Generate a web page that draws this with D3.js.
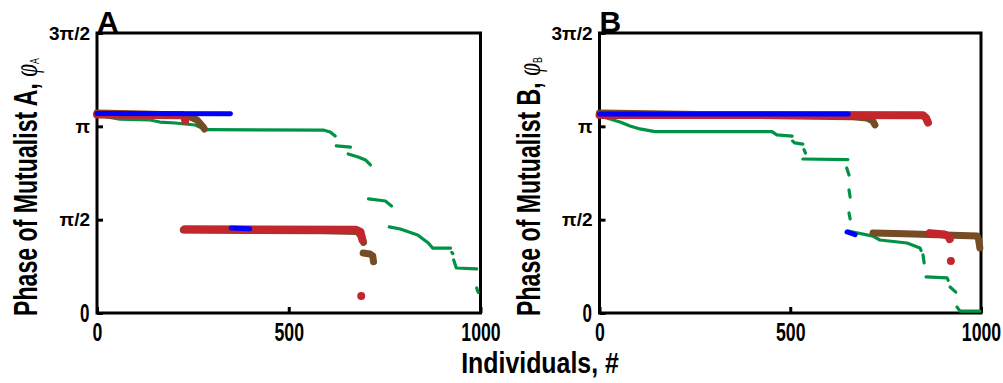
<!DOCTYPE html>
<html>
<head>
<meta charset="utf-8">
<script src="https://cdn.jsdelivr.net/npm/d3@7"></script>
<style>
  html, body { margin: 0; padding: 0; background: #fff; }
  svg { display: block; }
  text { font-family: "Liberation Sans", Arial, sans-serif; font-weight: bold; fill: #000; }
</style>
</head>
<body>
<svg id="chart" width="1003" height="383"></svg>
<script>
// Phase values are given in units of pi; individuals are ranked 0..1000.
// Each series is a list of runs: consecutive individuals whose dots merge into one stroke.
const phaseTicks = [0, 0.5, 1, 1.5];
const phaseTickLabels = ["0", "\u03c0/2", "\u03c0", "3\u03c0/2"];
const individualTicks = [0, 500, 1000];

// Mutualist A
const greenA = [
  [[0, 1.06], [60, 1.039], [138, 1.034], [164, 1.023], [204, 1.018], [256, 1.007], [275, 0.99], [285, 0.982], [590, 0.980], [608, 0.970], [621, 0.948]],
  [[624, 0.895], [661, 0.889]],
  [[655, 0.852], [681, 0.836], [700, 0.820], [713, 0.793]],
  [[708, 0.611], [752, 0.600], [768, 0.573]],
  [[762, 0.461], [791, 0.450], [836, 0.418], [864, 0.375], [875, 0.348], [922, 0.348]],
  [[925, 0.325], [928, 0.318]],
  [[930, 0.284], [937, 0.241], [990, 0.236]],
  [[990, 0.134], [994, 0.110]]
];
const brownA = [
  [[0, 1.071], [200, 1.062], [235, 1.058], [261, 1.034], [277, 0.996], [280, 0.986]],
  [[225, 0.445], [590, 0.44], [679, 0.436], [690, 0.41], [695, 0.378]],
  [[694, 0.321], [712, 0.316], [719, 0.306], [721, 0.275]]
];
const redA = [
  [[0, 1.063], [222, 1.06], [228, 1.05], [230, 1.03]],
  [[229, 0.448], [676, 0.446], [687, 0.435], [692, 0.392]],
  [[689, 0.091]]
];
const blueA = [
  [[0, 1.069], [348, 1.067]],
  [[350, 0.456], [398, 0.451]]
];

// Mutualist B
const greenB = [
  [[1, 1.055], [54, 1.023], [80, 1.002], [106, 0.986], [145, 0.972], [452, 0.972], [465, 0.954], [505, 0.948]],
  [[506, 0.921], [512, 0.911], [533, 0.905]],
  [[536, 0.875], [540, 0.857]],
  [[533, 0.825], [651, 0.822]],
  [[648, 0.777], [654, 0.739]],
  [[654, 0.659], [657, 0.621]],
  [[654, 0.536], [657, 0.504]],
  [[651, 0.439], [717, 0.412], [735, 0.391], [806, 0.375], [840, 0.348], [843, 0.335]],
  [[848, 0.311], [851, 0.268]],
  [[856, 0.193], [911, 0.188], [914, 0.175]],
  [[919, 0.139], [934, 0.112]],
  [[937, 0.032], [945, 0.01], [997, 0.01]]
];
const brownB = [
  [[0, 1.071], [657, 1.052], [700, 1.045], [716, 1.03], [722, 1.008]],
  [[717, 0.428], [800, 0.424], [990, 0.413], [994, 0.39], [997, 0.348]]
];
const redB = [
  [[0, 1.061], [848, 1.06], [856, 1.045], [861, 1.02]],
  [[866, 0.428], [905, 0.42], [915, 0.41], [918, 0.396]],
  [[921, 0.279]]
];
const blueB = [
  [[0, 1.066], [652, 1.066]],
  [[649, 0.434], [670, 0.42]]
];

const seriesStyle = {
  green: { color: "#009245", width: 3.2 },
  brown: { color: "#754c24", width: 7 },
  red:   { color: "#c1272d", width: 8 },
  blue:  { color: "#0000ff", width: 5 }
};

const panels = [
  { letter: "A", left: 97, right: 480.5,
    series: [["green", greenA], ["brown", brownA], ["red", redA], ["blue", blueA]] },
  { letter: "B", left: 599.5, right: 981,
    series: [["green", greenB], ["brown", brownB], ["red", redB], ["blue", blueB]] }
];

const svg = d3.select("#chart");
const plotTop = 33, plotBottom = 313;
const y = d3.scaleLinear().domain([0, 1.5]).range([plotBottom, plotTop]);

panels.forEach(p => {
  const x = d3.scaleLinear().domain([0, 1000]).range([p.left, p.right]);
  const g = svg.append("g");

  // frame
  g.append("rect")
    .attr("x", p.left).attr("y", plotTop)
    .attr("width", p.right - p.left).attr("height", plotBottom - plotTop)
    .attr("fill", "none").attr("stroke", "#000").attr("stroke-width", 3);

  // axes with inward ticks; numeric labels in a condensed bold face
  const xAxis = d3.axisBottom(x).tickValues(individualTicks).tickSize(-6).tickPadding(0)
    .tickFormat(d3.format("d"));
  const gx = g.append("g").attr("transform", `translate(0,${plotBottom})`).call(xAxis);
  gx.select(".domain").remove();
  gx.selectAll("line").attr("stroke", "#000").attr("stroke-width", 3);
  gx.selectAll("text").attr("font-size", 26).attr("font-family", null)
    .attr("y", 28).attr("dy", null).attr("transform", "scale(0.68,1)");

  const yAxis = d3.axisLeft(y).tickValues(phaseTicks).tickSize(-6).tickPadding(7)
    .tickFormat((d, i) => phaseTickLabels[i]);
  const gy = g.append("g").attr("transform", `translate(${p.left},0)`).call(yAxis);
  gy.select(".domain").remove();
  gy.selectAll("line").attr("stroke", "#000").attr("stroke-width", 3);
  gy.selectAll("text").attr("font-size", 19).attr("font-family", null);
  gy.selectAll(".tick").filter(d => d === 0).select("text")
    .attr("font-size", 25).attr("x", -11).attr("dy", "0.34em")
    .attr("transform", "scale(0.68,1)");

  // panel letter
  g.append("text").attr("x", p.left).attr("y", 32)
    .attr("font-size", 30).text(p.letter);

  // y axis title, condensed along the reading direction
  const title = g.append("text")
    .attr("transform", `translate(${p.left - 60},316) rotate(-90) scale(0.68,1)`)
    .attr("text-anchor", "start")
    .attr("font-size", 34);
  title.append("tspan").text(`Phase of Mutualist ${p.letter}, `);
  title.append("tspan").attr("font-family", "'Liberation Serif', serif")
    .attr("font-style", "italic").attr("font-weight", "normal")
    .attr("font-size", 34).text("\u03c6");
  title.append("tspan").attr("font-size", 13).attr("font-weight", "normal")
    .attr("dy", 2).text(p.letter);

  // data runs
  p.series.forEach(([name, runs]) => {
    const st = seriesStyle[name];
    const sg = g.append("g");
    runs.filter(r => r.length > 1).forEach(r => {
      sg.append("path").attr("d", d3.line().x(d => x(d[0])).y(d => y(d[1]))(r))
        .attr("fill", "none").attr("stroke", st.color)
        .attr("stroke-width", st.width)
        .attr("stroke-linecap", "round").attr("stroke-linejoin", "round");
    });
    runs.filter(r => r.length === 1).forEach(r => {
      sg.append("circle").attr("cx", x(r[0][0])).attr("cy", y(r[0][1]))
        .attr("r", st.width / 2).attr("fill", st.color);
    });
  });
});

// shared x title
svg.append("text").attr("transform", "translate(540,373) scale(0.83,1)")
  .attr("text-anchor", "middle")
  .attr("font-size", 30).text("Individuals, #");
</script>
</body>
</html>
